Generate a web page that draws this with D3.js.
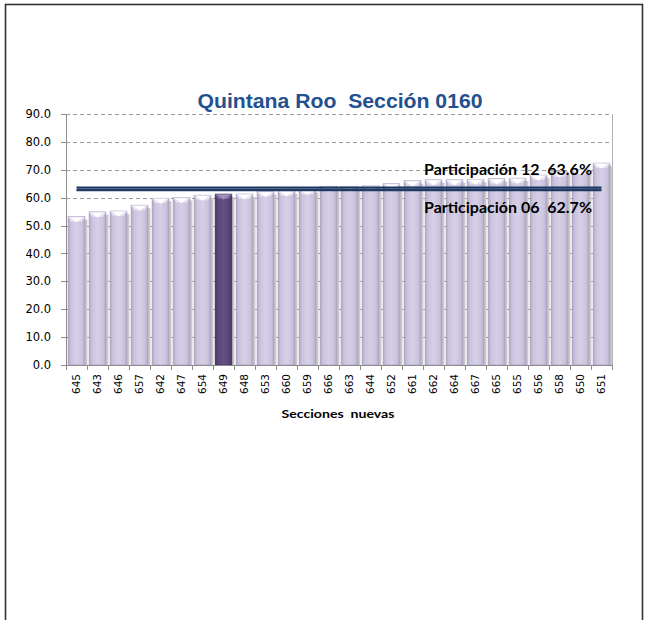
<!DOCTYPE html>
<html>
<head>
<meta charset="utf-8">
<script src="https://cdn.jsdelivr.net/npm/d3@7/dist/d3.min.js"></script>
<style>
  html, body { margin: 0; padding: 0; background: #fff; }
  svg { display: block; }
  svg text { white-space: pre; }
</style>
</head>
<body>
<svg id="chart" width="645" height="620"></svg>
<script>
// ---- Data ----
const categories = ["645","643","646","657","642","647","654","649","648","653","660","659","666",
                    "663","644","652","661","662","664","667","665","655","656","658","650","651"];
const values = [53.2,54.9,55.2,57.3,59.8,60.1,60.9,61.3,61.3,62.2,62.5,62.9,64.1,
                64.1,64.2,65.0,66.1,66.4,66.4,66.6,66.8,67.0,68.1,69.3,70.1,72.4];
const highlighted = ["649"];
const yTicks = [0,10,20,30,40,50,60,70,80,90];
const participacion12 = 63.6;
const participacion06 = 62.7;
const titleText = "Quintana Roo  Sección 0160";
const xTitle = "Secciones  nuevas";
const label12 = "Participación 12  63.6%";
const label06 = "Participación 06  62.7%";

(function () {
// ---- Layout ----
const svg = d3.select("#chart");
const pLeft = 66, pRight = 612, pTop = 114, pBottom = 365;

const x = d3.scaleBand().domain(categories).range([pLeft, pRight]).paddingInner(0.2).paddingOuter(0.1);
const y = d3.scaleLinear().domain([0, 90]).range([pBottom, pTop]);

// frame
svg.append("rect").attr("x", 5.5).attr("y", 4.5).attr("width", 637).attr("height", 640)
  .attr("fill", "none").attr("stroke", "#333").attr("stroke-width", 1.6);

// gradients
const defs = svg.append("defs");
function grad(id, edge, mid, center) {
  const g = defs.append("linearGradient").attr("id", id).attr("x1", "0").attr("x2", "1").attr("y1", "0").attr("y2", "0");
  g.append("stop").attr("offset", "0%").attr("stop-color", edge);
  g.append("stop").attr("offset", "18%").attr("stop-color", mid);
  g.append("stop").attr("offset", "50%").attr("stop-color", center);
  g.append("stop").attr("offset", "82%").attr("stop-color", mid);
  g.append("stop").attr("offset", "100%").attr("stop-color", edge);
}
grad("gLight", "#b1a7c8", "#ccc4de", "#d6cfe6");
grad("gDark", "#45335e", "#5b4679", "#654f85");

// gridlines
const grid = svg.append("g");
grid.selectAll("line").data(yTicks.filter(d => d > 0)).join("line")
  .attr("x1", pLeft).attr("x2", pRight)
  .attr("y1", d => Math.round(y(d)) + 0.5).attr("y2", d => Math.round(y(d)) + 0.5)
  .attr("stroke", "#9a9a9a").attr("stroke-width", 1).attr("stroke-dasharray", "4,3");
svg.append("line").attr("x1", pRight + 0.5).attr("x2", pRight + 0.5).attr("y1", pTop).attr("y2", pBottom)
  .attr("stroke", "#b0b0b0");

const bw = x.bandwidth();
const isHi = i => highlighted.includes(categories[i]);

// bar shadows
const bars = svg.append("g");
bars.selectAll("rect.sh").data(values).join("rect").attr("class", "sh")
  .attr("x", (d, i) => x(categories[i]) + bw)
  .attr("y", d => y(d) + 3)
  .attr("width", 2.5)
  .attr("height", d => pBottom - y(d) - 3)
  .attr("fill", "#c8c8c8");

bars.selectAll("rect.bar").data(values).join("rect").attr("class", "bar")
  .attr("x", (d, i) => x(categories[i]))
  .attr("y", d => y(d))
  .attr("width", bw)
  .attr("height", d => pBottom - y(d))
  .attr("fill", (d, i) => isHi(i) ? "url(#gDark)" : "url(#gLight)")
  .attr("stroke", (d, i) => isHi(i) ? "#3d2d55" : "#a096b8")
  .attr("stroke-width", 0.6);

// top bevels
bars.selectAll("path.bevel").data(values).join("path").attr("class", "bevel")
  .attr("d", (d, i) => {
    const x0 = x(categories[i]), x1 = x0 + bw, yt = y(d);
    return `M${x0},${yt} L${x1},${yt} L${x1 - 3},${yt + 5} L${x0 + 3},${yt + 5} Z`;
  })
  .attr("fill", (d, i) => isHi(i) ? "#7e6a9c" : "#e6e0f0");
bars.selectAll("path.tri").data(values).join("path").attr("class", "tri")
  .attr("d", (d, i) => {
    const x0 = x(categories[i]), x1 = x0 + bw, yt = y(d), xc = x0 + bw / 2;
    return `M${x0 + 2},${yt + 0.8} L${x1 - 2},${yt + 0.8} L${xc},${yt + 5.5} Z`;
  })
  .attr("fill", (d, i) => isHi(i) ? "#a392bd" : "#ffffff");

// axes
const yAxisG = svg.append("g");
yAxisG.append("line").attr("x1", pLeft + 0.5).attr("x2", pLeft + 0.5).attr("y1", pTop).attr("y2", pBottom)
  .attr("stroke", "#8c8c8c");
yAxisG.selectAll("line.tk").data(yTicks).join("line").attr("class", "tk")
  .attr("x1", pLeft - 5).attr("x2", pLeft)
  .attr("y1", d => Math.round(y(d)) + 0.5).attr("y2", d => Math.round(y(d)) + 0.5)
  .attr("stroke", "#8c8c8c");
yAxisG.selectAll("text").data(yTicks).join("text")
  .attr("x", 51).attr("y", d => y(d)).attr("dy", "0.36em")
  .attr("text-anchor", "end")
  .attr("font-family", "DejaVu Sans, Verdana, sans-serif").attr("font-size", 11.5)
  .attr("fill", "#000")
  .text(d => d3.format(".1f")(d));

const xAxisG = svg.append("g");
xAxisG.append("line").attr("x1", pLeft).attr("x2", pRight + 0.5).attr("y1", pBottom + 0.5).attr("y2", pBottom + 0.5)
  .attr("stroke", "#8c8c8c");
const edges = categories.map(c => x(c) - x.step() * x.paddingInner() / 2).concat([pRight]);
xAxisG.selectAll("line.tk").data(edges).join("line").attr("class", "tk")
  .attr("x1", d => Math.round(d) + 0.5).attr("x2", d => Math.round(d) + 0.5)
  .attr("y1", pBottom).attr("y2", pBottom + 5)
  .attr("stroke", "#8c8c8c");
xAxisG.selectAll("text").data(categories).join("text")
  .attr("transform", d => `translate(${x(d) + bw / 2},374) rotate(-90)`)
  .attr("dy", "0.36em")
  .attr("text-anchor", "end")
  .attr("font-family", "DejaVu Sans, Verdana, sans-serif").attr("font-size", 10.5)
  .attr("fill", "#000")
  .text(d => d);

// participation lines
const line = d3.line().x(d => x(d) + bw / 2);
svg.append("path")
  .attr("d", line.y(() => y(participacion06))(categories))
  .attr("fill", "none").attr("stroke", "#1f3b63").attr("stroke-width", 2.3);
svg.append("path")
  .attr("d", line.y(() => y(participacion12))(categories))
  .attr("fill", "none").attr("stroke", "#1c3660").attr("stroke-width", 2.3);

// annotations
svg.append("text").attr("x", 424).attr("y", 175)
  .attr("font-family", "Lato, Liberation Sans, sans-serif").attr("font-weight", "bold")
  .attr("font-size", 14.5).attr("fill", "#000")
  .attr("textLength", 168).attr("lengthAdjust", "spacingAndGlyphs")
  .text(label12);
svg.append("text").attr("x", 424).attr("y", 213)
  .attr("font-family", "Lato, Liberation Sans, sans-serif").attr("font-weight", "bold")
  .attr("font-size", 14.5).attr("fill", "#000")
  .attr("textLength", 168).attr("lengthAdjust", "spacingAndGlyphs")
  .text(label06);

// title
svg.append("text").attr("x", 340).attr("y", 108)
  .attr("text-anchor", "middle")
  .attr("font-family", "Liberation Sans, Arial, sans-serif").attr("font-weight", "bold")
  .attr("font-size", 20).attr("fill", "#23508e")
  .attr("textLength", 285).attr("lengthAdjust", "spacingAndGlyphs")
  .text(titleText);

// x axis title
svg.append("text").attr("x", 338).attr("y", 418)
  .attr("text-anchor", "middle")
  .attr("font-family", "Lato, Liberation Sans, sans-serif").attr("font-weight", "bold")
  .attr("font-size", 12).attr("fill", "#000")
  .attr("textLength", 113).attr("lengthAdjust", "spacingAndGlyphs")
  .text(xTitle);
})();
</script>
</body>
</html>
